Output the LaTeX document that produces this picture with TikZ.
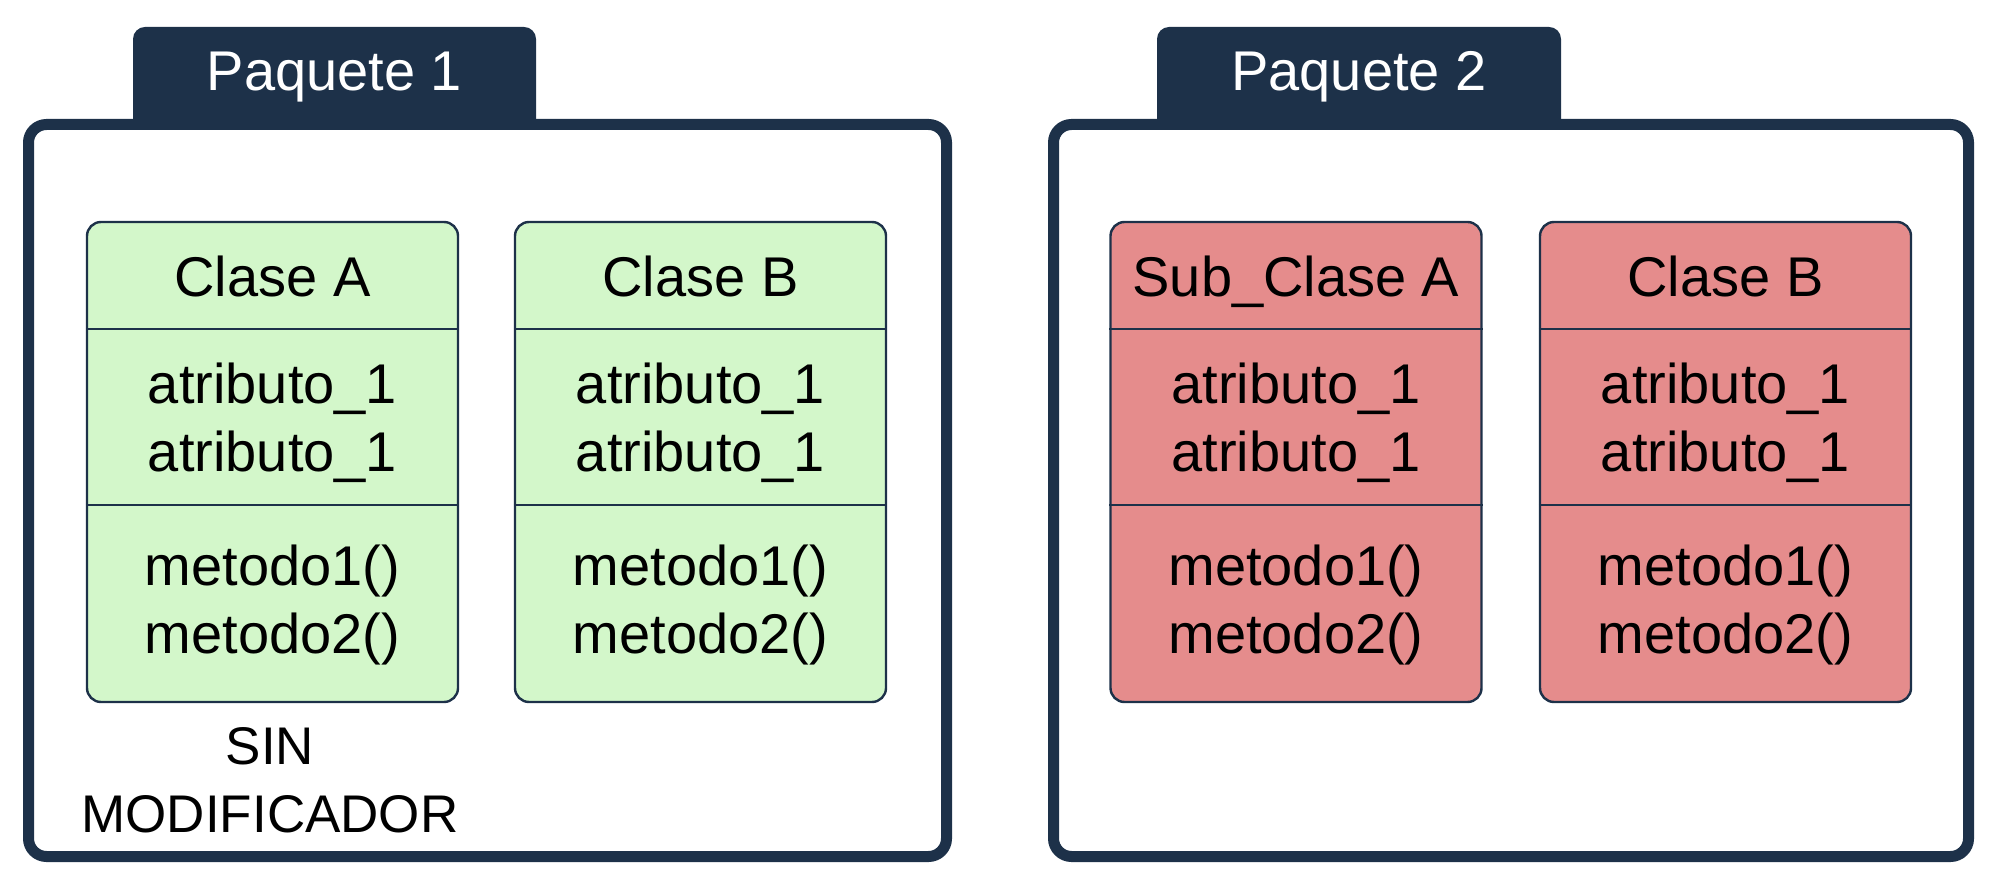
\documentclass[tikz,border=0pt]{standalone}
\usepackage{fontspec}
\setmainfont{Liberation Sans}
\usetikzlibrary{positioning}

\definecolor{navy}{RGB}{29,49,73}
\definecolor{verdeclase}{RGB}{211,247,202}
\definecolor{rojoclase}{RGB}{229,140,140}

\begin{document}
\begin{tikzpicture}[x=0.5pt,y=0.5pt,yscale=-1,xscale=1,
  marco/.style={draw=navy,line width=5.5pt,rounded corners=9pt},
  pestana/.style={fill=navy,rounded corners=6pt},
  clase/.style={draw=navy,line width=1.2pt,rounded corners=7pt,minimum width=185.5pt,minimum height=240pt,inner sep=0pt},
  divisor/.style={draw=navy,line width=1pt},
  texto/.style={align=center,inner sep=0pt,font=\fontsize{28}{34}\selectfont},
  titulo/.style={text=white,inner sep=0pt,font=\fontsize{28}{34}\selectfont}]
\useasboundingbox (0,0) rectangle (2000,892);

%Paquete 1
\path[pestana] (133,130) -- (133,27) -- (536,27) -- (536,130);
\draw[marco] (28.5,124.5) rectangle (946.5,856.5);
\node[titulo] (p1) at (334.5,77) {Paquete 1};
%Paquete 2
\path[pestana] (1157,130) -- (1157,27) -- (1561,27) -- (1561,130);
\draw[marco] (1053.5,124.5) rectangle (1968.5,856.5);
\node[titulo] (p2) at (1359,77) {Paquete 2};

%Clases
\foreach \cx/\cid/\ctitle/\cfill in {272.5/ca/Clase A/verdeclase, 700.5/cb/Clase B/verdeclase, 1296/sa/Sub\_Clase A/rojoclase, 1725.5/sb/Clase B/rojoclase}{
  \node[clase,fill=\cfill] (\cid) at (\cx,462) {};
  \draw[divisor] (\cid.west |- 0,329) -- (\cid.east |- 0,329);
  \draw[divisor] (\cid.west |- 0,505) -- (\cid.east |- 0,505);
  \node[texto,anchor=base] (\cid-nombre) at (\cx,297) {\ctitle};
  \node[texto] (\cid-atributos) at (\cx,423) {atributo\_1\\atributo\_1};
  \node[texto] (\cid-metodos) at (\cx,605) {metodo1()\\metodo2()};
}

% Text Node
\node[texto,font=\fontsize{26.5}{34}\selectfont] (modificador) at (270,780) {SIN\\MODIFICADOR};

\end{tikzpicture}
\end{document}
